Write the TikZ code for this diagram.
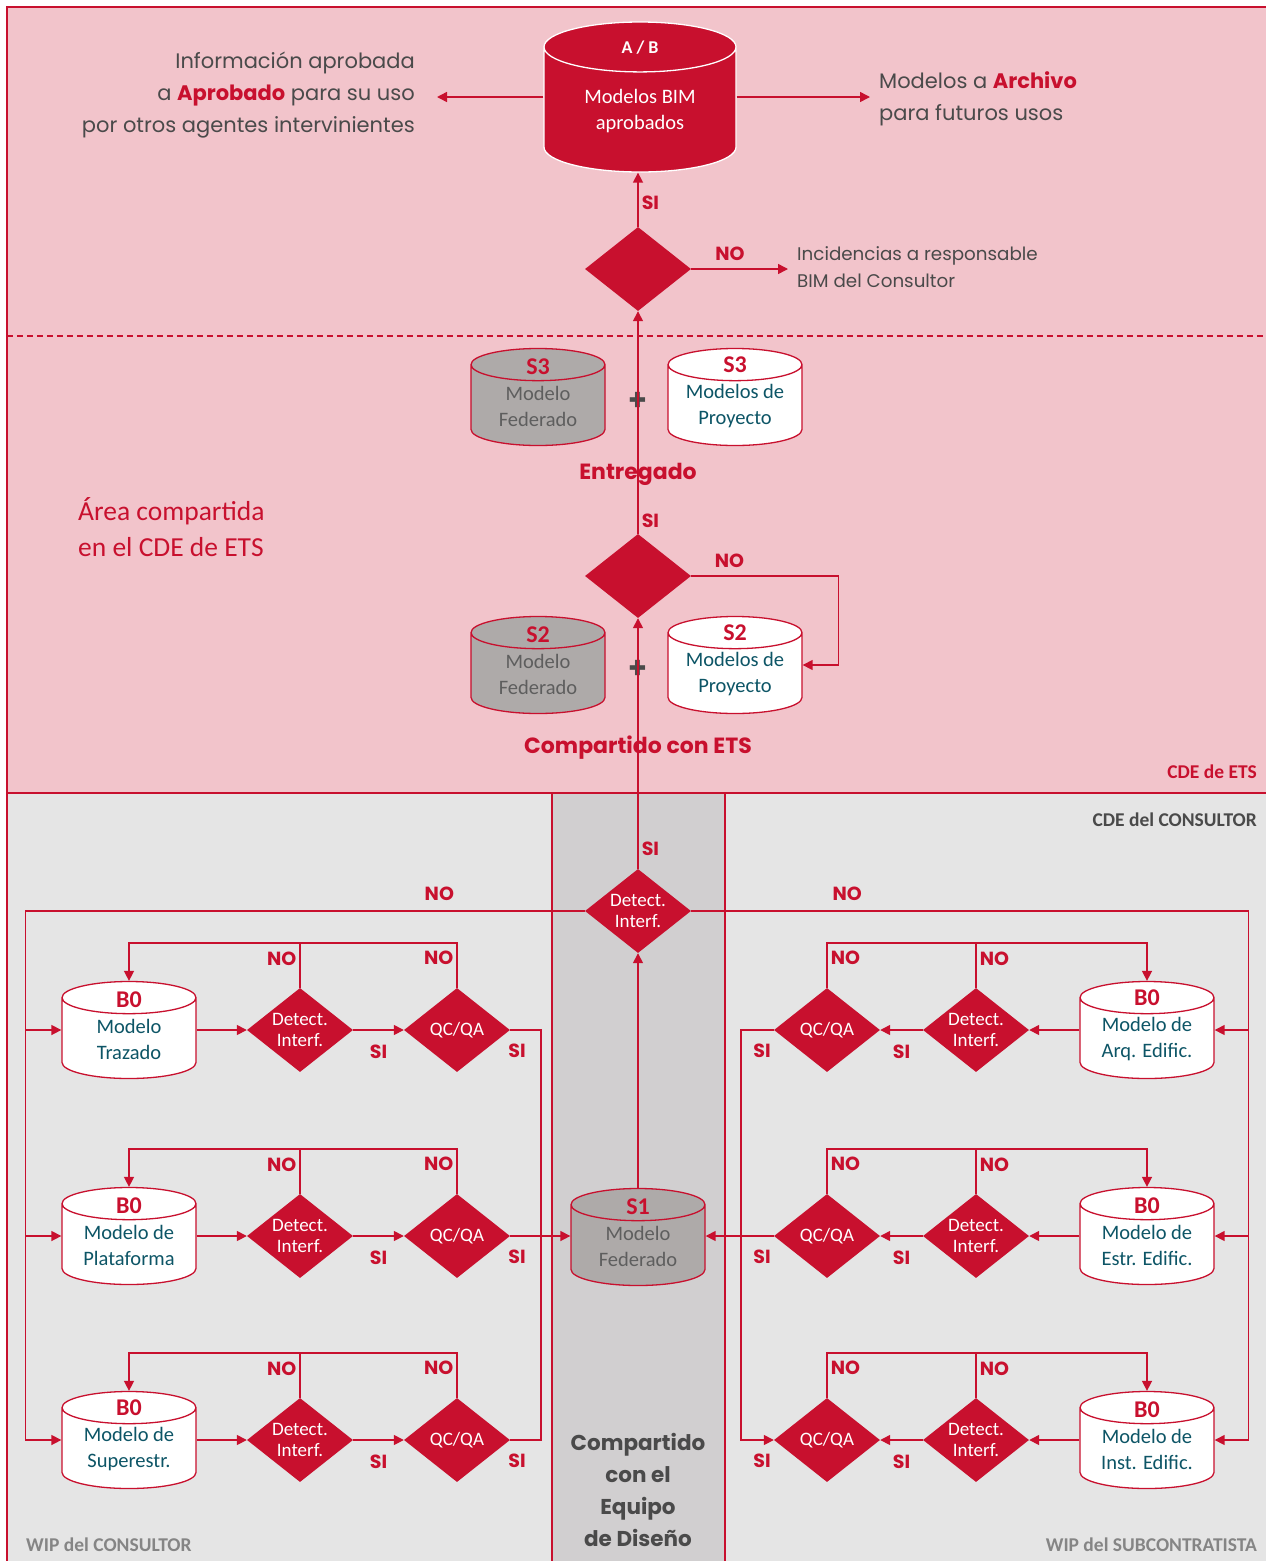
\documentclass[tikz,border=0pt]{standalone}
\usepackage{fontspec}
\usetikzlibrary{arrows.meta, shapes.geometric, positioning}
\newfontfamily\geofont{Poppins}
\newfontfamily\narrowfont{Carlito}
\definecolor{etsred}{HTML}{C8102E}
\definecolor{etspink}{HTML}{F2C4CB}
\definecolor{wipgray}{HTML}{E5E5E5}
\definecolor{bandgray}{HTML}{D1CFD0}
\definecolor{cylgray}{HTML}{AEAAA9}
\definecolor{tealtext}{HTML}{0D5566}
\definecolor{fedtext}{HTML}{5E5E5E}
\definecolor{darktext}{HTML}{4A4A4A}
\definecolor{wiptext}{HTML}{858585}
\newcommand{\modeltag}[1]{{\bfseries\color{etsred}\fontsize{24}{26}\selectfont #1}}
\tikzset{model/.style={cylinder, shape border rotate=90, aspect=0.24, anchor=shape center, draw=etsred,
        line width=1.3pt, fill=white, text width=134pt, minimum width=134pt, minimum height=97pt, inner sep=0pt},
    federated/.style={model, fill=cylgray},
    modeltext/.style={align=center, text=tealtext, inner sep=0pt, yshift=13pt,
        font=\narrowfont\fontsize{20.5}{26}\selectfont},
    fedlabel/.style={modeltext, text=fedtext},
    check/.style={diamond, fill=etsred, minimum width=106pt, minimum height=84pt, aspect=1.26,
        inner sep=0pt, align=center, text=white, font=\narrowfont\fontsize{19}{21}\selectfont},
    flow/.style={draw=etsred, line width=1.5pt, -{Triangle[length=10pt,width=10pt]}},
    link/.style={draw=etsred, line width=1.5pt},
    areaframe/.style={draw=etsred, line width=1.5pt},
    answer/.style={text=etsred, inner sep=3pt, font=\geofont\bfseries\fontsize{19}{20}\selectfont},
    note/.style={text=darktext, inner ysep=0pt, font=\geofont\fontsize{21}{32}\selectfont},
    stage/.style={text=etsred, inner sep=0pt, font=\geofont\bfseries\fontsize{22}{24}\selectfont},
    plussign/.style={text=darktext, inner sep=0pt, font=\geofont\bfseries\fontsize{30}{30}\selectfont},
    areaname/.style={inner sep=0pt, font=\narrowfont\bfseries\fontsize{19.5}{22}\selectfont}}

\begin{document}
\begin{tikzpicture}[x=1pt, y=-1pt]

  \useasboundingbox (0,0) rectangle (1266,1561);

  % First we draw the areas
  \fill[etspink] (7,7) rectangle (1266,793);
  \fill[wipgray] (7,793) rectangle (1266,1561);
  \fill[bandgray] (552,793) rectangle (725,1561);
  \draw[areaframe] (1266,7) -- (7,7) -- (7,1561);
  \draw[areaframe] (7,793) -- (1266,793);
  \draw[areaframe] (552,793) -- (552,1561);
  \draw[areaframe] (725,793) -- (725,1561);
  \draw[areaframe, dash pattern=on 6pt off 4pt] (7,336) -- (1266,336);

  \node[anchor=west, align=left, inner sep=0pt, text=etsred,
        font=\narrowfont\fontsize{27.5}{36}\selectfont] (shared) at (78,527) {Área compartida\\en el CDE de ETS};
  \node[areaname, anchor=east, text=etsred] (cdeets) at (1257,772) {CDE de ETS};
  \node[areaname, anchor=east, text=darktext] (cdecons) at (1257,820) {CDE del CONSULTOR};
  \node[areaname, anchor=west, text=wiptext] (wipcons) at (26,1545) {WIP del CONSULTOR};
  \node[areaname, anchor=east, text=wiptext] (wipsub) at (1257,1545) {WIP del SUBCONTRATISTA};
  \node[stage, text=darktext, align=center, font=\geofont\bfseries\fontsize{21.5}{32}\selectfont]
        (team) at (638,1490) {Compartido\\con el\\Equipo\\de Diseño};

  % Approved models
  \node[model, fill=etsred, draw=white, aspect=0.26, text width=192pt, minimum width=192pt, minimum height=150pt,
        label={[modeltext, text=white, yshift=9.5pt]center:{{\bfseries\fontsize{18}{20}\selectfont A / B}\\[24pt]Modelos BIM\\aprobados}}]
        (ab) at (640,97) {};
  \node[note, anchor=east, align=right, inner xsep=22pt] (aprob) at (437,95)
        {Información aprobada\\a {\bfseries\color{etsred}Aprobado} para su uso\\por otros agentes intervinientes};
  \draw[flow] (ab.west |- ab.shape center) -- (aprob.east |- ab.shape center);
  \node[note, anchor=west, align=left, inner xsep=9pt] (archivo) at (870,99)
        {Modelos a {\bfseries\color{etsred}Archivo}\\para futuros usos};
  \draw[flow] (ab.east |- ab.shape center) -- (archivo.west |- ab.shape center);

  \node[check] (d1) at (638,269) {};
  \draw[flow] (d1.north) -- node[answer, right, pos=0.45] {SI} (ab.south -| d1.north);
  \node[note, anchor=west, align=left, inner xsep=9pt, font=\geofont\fontsize{18.3}{27}\selectfont]
        (incid) at (788,267) {Incidencias a responsable\\BIM del Consultor};
  \draw[flow] (d1.east) -- node[answer, above=5pt, pos=0.4] {NO} (incid.west |- d1.east);

  % Delivered
  \node[federated, label={[fedlabel]center:{\modeltag{S3}\\Modelo\\Federado}}] (s3f) at (538,397) {};
  \node[model, label={[modeltext]center:{\modeltag{S3}\\Modelos de\\Proyecto}}] (s3p) at (735,397) {};
  \node[plussign] (plus3) at (638,401) {+};
  \node[stage] (entregado) at (638,474) {Entregado};

  \node[check] (d2) at (638,576) {};
  \draw[flow] (d2.north) -- node[answer, right, pos=0.06] {SI} (d1.south);

  % Shared with ETS
  \node[federated, label={[fedlabel]center:{\modeltag{S2}\\Modelo\\Federado}}] (s2f) at (538,665) {};
  \node[model, label={[modeltext]center:{\modeltag{S2}\\Modelos de\\Proyecto}}] (s2p) at (735,665) {};
  \draw[flow] (d2.east) -| node[answer, above=5pt, pos=0.13] {NO} ([xshift=36pt]s2p.shape center -| s2p.east)
        -- (s2p.east |- s2p.shape center);
  \node[plussign] (plus2) at (638,669) {+};
  \node[stage] (compets) at (638,748) {Compartido con ETS};

  % Shared with the design team
  \node[check] (dc) at (638,911) {Detect.\\Interf.};
  \draw[flow] (dc.north) -- node[answer, right, pos=0.08] {SI} (d2.south);
  \node[federated, label={[fedlabel]center:{\modeltag{S1}\\Modelo\\Federado}}] (s1) at (638,1237) {};
  \draw[flow] (s1.north) -- (dc.south);

  % Work in progress rows
  \foreach \row/\y/\lname/\rname in {1/1030/{Modelo\\Trazado}/{Modelo de\\Arq. Edific.},
                                     2/1236/{Modelo de\\Plataforma}/{Modelo de\\Estr. Edific.},
                                     3/1440/{Modelo de\\Superestr.}/{Modelo de\\Inst. Edific.}}
  {
    % consultant
    \node[model, label={[modeltext]center:{\modeltag{B0}\\\lname}}] (bl\row) at (129,\y) {};
    \node[check] (dl\row) at (300,\y) {Detect.\\Interf.};
    \node[check] (ql\row) at (457,\y) {QC/QA};
    \draw[flow] (bl\row.east |- dl\row.west) -- (dl\row.west);
    \draw[flow] (dl\row.east) -- node[answer, below=11pt] {SI} (ql\row.west);
    \draw[flow] (ql\row.north) |- node[answer, left, pos=0.33] {NO} ([yshift=38pt]bl\row.north) -- (bl\row.north);
    \draw[link] (dl\row.north) -- node[answer, left, pos=0.67] {NO} ++(0,-44);
    \node[answer, anchor=north west, inner sep=0pt] (sil\row) at ([xshift=-2pt,yshift=-14pt]ql\row.east) {SI};

    % subcontractor
    \node[model, label={[modeltext]center:{\modeltag{B0}\\\rname}}] (br\row) at (1147,\y) {};
    \node[check] (dr\row) at (976,\y) {Detect.\\Interf.};
    \node[check] (qr\row) at (827,\y) {QC/QA};
    \draw[flow] (br\row.west |- dr\row.east) -- (dr\row.east);
    \draw[flow] (dr\row.west) -- node[answer, below=11pt] {SI} (qr\row.east);
    \draw[flow] (qr\row.north) |- node[answer, right, pos=0.33] {NO} ([yshift=38pt]br\row.north) -- (br\row.north);
    \draw[link] (dr\row.north) -- node[answer, right, pos=0.67] {NO} ++(0,-44);
    \node[answer, anchor=north east, inner sep=0pt] (sir\row) at ([xshift=-3pt,yshift=-14pt]qr\row.west) {SI};

    % rejected by the shared check
    \draw[flow] ([xshift=-36pt]bl\row.west |- bl\row.shape center) -- (bl\row.west |- bl\row.shape center);
    \draw[flow] ([xshift=34pt]br\row.east |- br\row.shape center) -- (br\row.east |- br\row.shape center);
  }

  % Joining to the federated model
  \draw[link] (ql1.east) -| ([xshift=31pt]ql3.east) -- (ql3.east);
  \draw[flow] (ql2.east) -- (s1.west |- ql2.east);
  \draw[flow] (qr1.west) -| ([xshift=-33pt]qr3.west) -- (qr3.west);
  \draw[flow] (qr2.west) -- (s1.east |- qr2.west);

  % Rejected by the shared check
  \draw[link] (dc.west) -| node[answer, above=7pt, pos=0.13] {NO} ([xshift=-36pt]bl3.west |- bl3.shape center);
  \draw[link] (dc.east) -| node[answer, above=7pt, pos=0.14] {NO} ([xshift=34pt]br3.east |- br3.shape center);

\end{tikzpicture}
\end{document}
